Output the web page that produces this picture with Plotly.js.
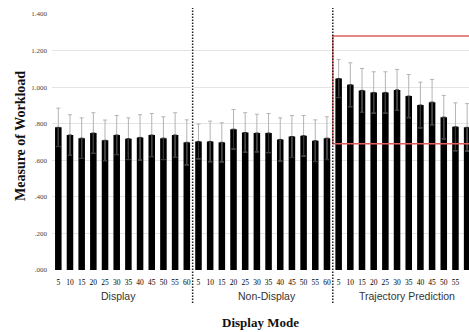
<!DOCTYPE html>
<html>
<head>
<meta charset="utf-8">
<script src="https://cdn.plot.ly/plotly-3.0.1.min.js"></script>
<style>html,body{margin:0;padding:0;background:#fff;}#chart{width:469px;height:332px;}</style>
</head>
<body>
<div id="chart"></div>
<script>
const durations = ['5','10','15','20','25','30','35','40','45','50','55','60'];
const modes = ['Display','Non-Display','Trajectory Prediction'];
const displayMean = [0.780,0.738,0.721,0.749,0.709,0.738,0.718,0.725,0.738,0.721,0.738,0.698];
const displayErr = [0.105,0.111,0.111,0.111,0.111,0.107,0.114,0.124,0.118,0.117,0.122,0.123];
const nonDisplayMean = [0.703,0.703,0.698,0.770,0.752,0.749,0.749,0.714,0.730,0.734,0.707,0.721];
const nonDisplayErr = [0.095,0.111,0.107,0.108,0.108,0.103,0.107,0.118,0.115,0.111,0.114,0.117];
const trajMean = [1.047,1.013,0.982,0.971,0.971,0.985,0.951,0.902,0.918,0.836,0.783,0.780];
const trajErr = [0.104,0.120,0.120,0.113,0.113,0.112,0.118,0.125,0.124,0.119,0.131,0.130];
const yTickVals = [0,0.2,0.4,0.6,0.8,1.0,1.2,1.4];
const yTickText = ['.000','.200','.400','.600','.800','1.000','1.200','1.400'];
const highlightLow = 0.69;
const highlightHigh = 1.28;

const groupMeans = [displayMean, nonDisplayMean, trajMean];
const groupErrs = [displayErr, nonDisplayErr, trajErr];

const xs = [], ys = [], es = [], zeros = [], tickText = [];
groupMeans.forEach((m, g) => {
  m.forEach((v, i) => {
    xs.push(g * durations.length + i);
    ys.push(v);
    es.push(groupErrs[g][i]);
    zeros.push(0);
    tickText.push(durations[i]);
  });
});

const n = durations.length;
const bars = {
  type: 'bar', x: xs, y: ys, width: 0.56,
  marker: {color: '#000000', line: {width: 0}},
  error_y: {type: 'data', symmetric: true, array: es, color: '#b3b3b3', thickness: 1, width: 2},
  hoverinfo: 'none'
};
const lowerErr = {
  type: 'scatter', mode: 'markers', x: xs, y: ys,
  marker: {size: 1, color: 'rgba(0,0,0,0)'},
  error_y: {type: 'data', symmetric: false, array: zeros, arrayminus: es, color: '#2e2e2e', thickness: 1, width: 2},
  hoverinfo: 'none'
};

const L = 52, W = 417, B = 270, H = 256;
const px = p => (p - L) / W;
const py = p => (B - p) / H;

const seps = [n - 0.5, 2 * n - 0.5];
const shapes = [];
seps.forEach(xv => {
  shapes.push({type: 'line', xref: 'x', yref: 'paper', x0: xv, x1: xv, y0: py(303), y1: py(8),
    line: {color: '#ffffff', width: 3}, layer: 'above'});
});
shapes.push({type: 'rect', xref: 'x', yref: 'y', x0: 2 * n - 0.5, x1: 3 * n, y0: highlightLow, y1: highlightHigh,
  line: {color: '#e0605e', width: 1.5}, fillcolor: 'rgba(0,0,0,0)', layer: 'above'});
seps.forEach(xv => {
  shapes.push({type: 'line', xref: 'x', yref: 'paper', x0: xv, x1: xv, y0: py(303), y1: py(8),
    line: {color: '#222222', width: 1.5, dash: '1.5px,1.5px'}, layer: 'above'});
});

const groupX = [118, 267, 407];
const annotations = modes.map((m, g) => ({
  text: m, xref: 'paper', yref: 'paper', x: px(groupX[g]), y: py(296),
  xanchor: 'center', yanchor: 'middle', showarrow: false,
  font: {family: 'Liberation Sans, Arial, sans-serif', size: 10.5, color: '#333333'}
}));
annotations.push({
  text: '<b>Display Mode</b>', xref: 'paper', yref: 'paper', x: px(260), y: py(322),
  xanchor: 'center', yanchor: 'middle', showarrow: false,
  font: {family: 'Liberation Serif, Times New Roman, serif', size: 13, color: '#111111'}
});
annotations.push({
  text: '<b>Measure of Workload</b>', xref: 'paper', yref: 'paper', x: px(20), y: py(136),
  xanchor: 'center', yanchor: 'middle', showarrow: false, textangle: -90,
  font: {family: 'Liberation Serif, Times New Roman, serif', size: 14, color: '#111111'}
});

const layout = {
  width: 469, height: 332,
  margin: {l: L, r: 0, t: 14, b: 62, pad: 0},
  paper_bgcolor: '#ffffff', plot_bgcolor: '#ffffff',
  showlegend: false,
  xaxis: {
    range: [-0.54, 35.16], tickvals: xs, ticktext: tickText,
    tickfont: {family: 'Liberation Serif, Times New Roman, serif', size: 7.5, color: '#000000'},
    ticks: 'outside', ticklen: 5, tickcolor: 'rgba(0,0,0,0)',
    showgrid: false, zeroline: false, showline: false, fixedrange: true
  },
  yaxis: {
    range: [0, 1.4], tickvals: yTickVals, ticktext: yTickText,
    tickfont: {family: 'Liberation Serif, Times New Roman, serif', size: 7, color: '#444444'},
    ticks: '', ticklabelstandoff: 4,
    showgrid: true, gridcolor: '#e4e4e4', gridwidth: 1,
    zeroline: false, showline: false, fixedrange: true
  },
  shapes: shapes,
  annotations: annotations
};

Plotly.newPlot('chart', [bars, lowerErr], layout, {displayModeBar: false, staticPlot: true});
</script>
</body>
</html>
